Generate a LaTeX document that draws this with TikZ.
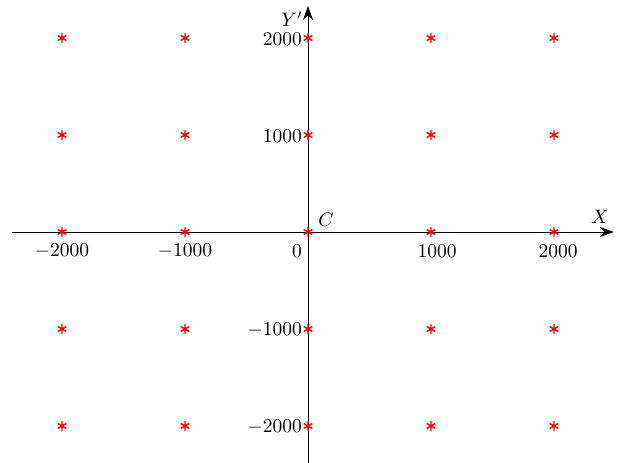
\documentclass[tikz,border=0pt]{standalone}
\usetikzlibrary{arrows.meta,plotmarks}
\newcommand{\axlbl}[1]{\scalebox{1.95}{#1}}
\begin{document}
\begin{tikzpicture}[x=1pt,y=-1pt,
  axisline/.style={line width=1pt,-{Stealth[length=14pt,width=10pt]}},
  lbl/.style={inner sep=1pt},
  ptmark/.style={red,line width=1.4pt,mark=asterisk,mark size=5pt,only marks}]
\useasboundingbox (0,0) rectangle (622,463);
% axes
\coordinate (xs) at (12,232);
\coordinate (xe) at (614,232);
\coordinate (ys) at (308,463);
\coordinate (ye) at (308,6);
\draw[axisline] (xs) -- (xe);
\draw[axisline] (ys) -- (ye);
% points
\foreach \px in {62,185,308,431,554}{
  \foreach \py in {38,135,232,329,426}{
    \coordinate (p\px-\py) at (\px,\py);
    \path[ptmark] plot coordinates {(p\px-\py)};
  }
}
% x labels
\node[lbl] (lxm2) at (62,251) {\axlbl{$-2000$}};
\node[lbl] (lxm1) at (185,251) {\axlbl{$-1000$}};
\node[lbl] (lx0) at (297,251) {\axlbl{$0$}};
\node[lbl] (lx1) at (437,251) {\axlbl{$1000$}};
\node[lbl] (lx2) at (558,251) {\axlbl{$2000$}};
% y labels
\node[lbl,anchor=east] (ly2) at (303,39) {\axlbl{$2000$}};
\node[lbl,anchor=east] (ly1) at (303,136) {\axlbl{$1000$}};
\node[lbl,anchor=east] (lym1) at (303,330) {\axlbl{$-1000$}};
\node[lbl,anchor=east] (lym2) at (303,427) {\axlbl{$-2000$}};
% axis names
\node[lbl] (lX) at (600,217) {\axlbl{$X$}};
\node[lbl] (lY) at (292,19) {\axlbl{$Y'$}};
\node[lbl] (lC) at (326,220) {\axlbl{$C$}};
\end{tikzpicture}
\end{document}
